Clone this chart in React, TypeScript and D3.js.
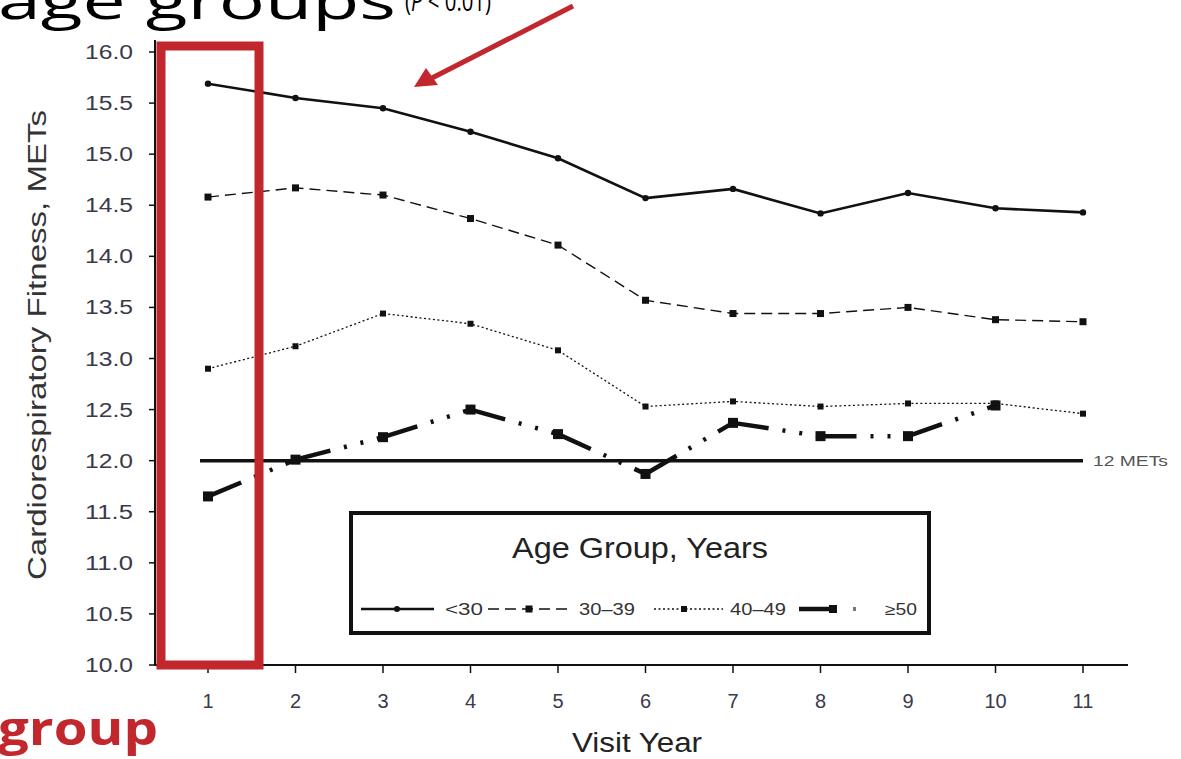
import React from "react";
import * as d3 from "d3";

const years = [1, 2, 3, 4, 5, 6, 7, 8, 9, 10, 11];
const under30 = [15.69, 15.55, 15.45, 15.22, 14.96, 14.57, 14.66, 14.42, 14.62, 14.47, 14.43];
const age30to39 = [14.58, 14.67, 14.6, 14.37, 14.11, 13.57, 13.44, 13.44, 13.5, 13.38, 13.36];
const age40to49 = [12.9, 13.12, 13.44, 13.34, 13.08, 12.53, 12.58, 12.53, 12.56, 12.56, 12.46];
const age50plus = [11.65, 12.01, 12.23, 12.5, 12.26, 11.87, 12.37, 12.24, 12.24, 12.54];
const yTicks = [10.0, 10.5, 11.0, 11.5, 12.0, 12.5, 13.0, 13.5, 14.0, 14.5, 15.0, 15.5, 16.0];
const seriesLabels = ["<30", "30–39", "40–49", "≥50"];
const threshold = 12;

const RED = "#c1272d";
const INK = "#111";
const FONT = "'Liberation Sans Narrow', 'Liberation Sans', Arial, sans-serif";

export default function App() {
  const x = d3.scaleLinear().domain([1, 11]).range([208, 1083]);
  const y = d3.scaleLinear().domain([10, 16]).range([665, 52]);

  const line = d3
    .line<[number, number]>()
    .x((d) => x(d[0]))
    .y((d) => y(d[1]));

  const series = [
    { vals: under30, width: 2.6, dash: "none", marker: "circle", size: 3.2, perSegment: false },
    { vals: age30to39, width: 1.4, dash: "11 6", marker: "square", size: 7, perSegment: false },
    { vals: age40to49, width: 1.3, dash: "2 2.5", marker: "square", size: 6, perSegment: false },
    { vals: age50plus, width: 4.5, dash: "36 14 3 14 3 14", marker: "square", size: 10, perSegment: true },
  ];

  const legendItems = [
    { x0: 361, x1: 434, mx: 397, lx: 445, lw: 38 },
    { x0: 488, x1: 570, mx: 529, lx: 579, lw: 56 },
    { x0: 654, x1: 723, mx: 684, lx: 730, lw: 56 },
    { x0: 799, x1: 834, mx: 833, lx: 885, lw: 32 },
  ];

  const renderMarker = (s: any, cx: number, cy: number, key: string) =>
    s.marker === "circle" ? (
      <circle key={key} cx={cx} cy={cy} r={s.size} fill={INK} />
    ) : (
      <rect key={key} x={cx - s.size / 2} y={cy - s.size / 2} width={s.size} height={s.size} fill={INK} />
    );

  return (
    <svg
      width={1181}
      height={759}
      style={{ position: "absolute", left: 0, top: 0, background: "#fff" }}
      fontFamily={FONT}
    >
      {/* Title fragment */}
      <text x={-2} y={19} fontSize={52} fontFamily="'Open Sans', 'Noto Sans', sans-serif" fill="#000" textLength={398} lengthAdjust="spacingAndGlyphs">
        age groups
      </text>
      <text x={405} y={11} fontSize={28} fontFamily="'Open Sans', 'Noto Sans', sans-serif" fill="#000" textLength={86} lengthAdjust="spacingAndGlyphs">
        (<tspan fontStyle="italic">P</tspan> &lt; 0.01)
      </text>

      {/* Axes */}
      <line x1={155} y1={40} x2={155} y2={666} stroke={INK} strokeWidth={2} />
      <line x1={155} y1={665} x2={1128} y2={665} stroke={INK} strokeWidth={2} />
      {yTicks.map((t) => (
        <g key={"yt" + t}>
          <line x1={149} x2={155} y1={y(t)} y2={y(t)} stroke={INK} strokeWidth={1.5} />
          <text x={133} y={y(t)} dy="0.35em" textAnchor="end" fontSize={20} fill="#3a3a4a" textLength={48} lengthAdjust="spacingAndGlyphs">
            {t.toFixed(1)}
          </text>
        </g>
      ))}
      {years.map((t) => (
        <g key={"xt" + t}>
          <line x1={x(t)} x2={x(t)} y1={665} y2={673} stroke={INK} strokeWidth={1.5} />
          <text x={x(t)} y={708} textAnchor="middle" fontSize={20} fill="#3a3a4a">
            {t}
          </text>
        </g>
      ))}
      <text
        transform={`translate(46,345) rotate(-90)`}
        textAnchor="middle"
        fontSize={25}
        fill="#333"
        textLength={470}
        lengthAdjust="spacingAndGlyphs"
      >
        Cardiorespiratory Fitness, METs
      </text>
      <text x={637} y={752} textAnchor="middle" fontSize={27} fill="#222" textLength={130} lengthAdjust="spacingAndGlyphs">
        Visit Year
      </text>

      {/* 12 METs reference */}
      <line x1={200} x2={1083} y1={y(threshold)} y2={y(threshold)} stroke={INK} strokeWidth={3.5} />
      <text x={1093} y={y(threshold)} dy="0.35em" fontSize={15} fill="#555" textLength={75} lengthAdjust="spacingAndGlyphs">
        12 METs
      </text>

      {/* Series */}
      {series.map((s, i) => {
        const pts = s.vals.map((v, j) => [years[j], v] as [number, number]);
        const paths = s.perSegment
          ? pts.slice(1).map((p, j) => line([pts[j], p]) || "")
          : [line(pts) || ""];
        return (
          <g key={"s" + i}>
            {paths.map((d, k) => (
              <path key={k} d={d} fill="none" stroke={INK} strokeWidth={s.width} strokeDasharray={s.dash} />
            ))}
            {pts.map((p, j) => renderMarker(s, x(p[0]), y(p[1]), `m${i}-${j}`))}
          </g>
        );
      })}

      {/* Legend */}
      <rect x={351} y={513} width={578} height={120} fill="#fff" stroke={INK} strokeWidth={4} />
      <text x={640} y={558} textAnchor="middle" fontSize={29} fill="#222" textLength={256} lengthAdjust="spacingAndGlyphs">
        Age Group, Years
      </text>
      {series.map((s, i) => {
        const it = legendItems[i];
        const ly = 609;
        return (
          <g key={"lg" + i}>
            <line
              x1={it.x0}
              x2={it.x1}
              y1={ly}
              y2={ly}
              stroke={INK}
              strokeWidth={s.perSegment ? 4.5 : s.width}
              strokeDasharray={s.perSegment ? "none" : s.dash}
            />
            {s.perSegment && <rect x={853} y={ly - 2} width={3} height={4} fill="#777" />}
            {renderMarker({ ...s, size: s.marker === "circle" ? 3 : Math.min(s.size, 8) }, it.mx, ly, "lm" + i)}
            <text x={it.lx} y={ly} dy="0.35em" fontSize={16} fill="#333" textLength={it.lw} lengthAdjust="spacingAndGlyphs">
              {seriesLabels[i]}
            </text>
          </g>
        );
      })}

      {/* Annotation overlays */}
      <rect x={161} y={46} width={98} height={619} fill="none" stroke={RED} strokeWidth={9} />
      <line x1={573} y1={6} x2={432} y2={78} stroke={RED} strokeWidth={5} />
      <path d="M414,87 L426,68 L438,85 Z" fill={RED} />
      <text x={-2} y={745} fontSize={46} fontWeight="bold" fill={RED} fontFamily="'Open Sans', 'Noto Sans', sans-serif" textLength={160} lengthAdjust="spacingAndGlyphs">
        group
      </text>
    </svg>
  );
}
